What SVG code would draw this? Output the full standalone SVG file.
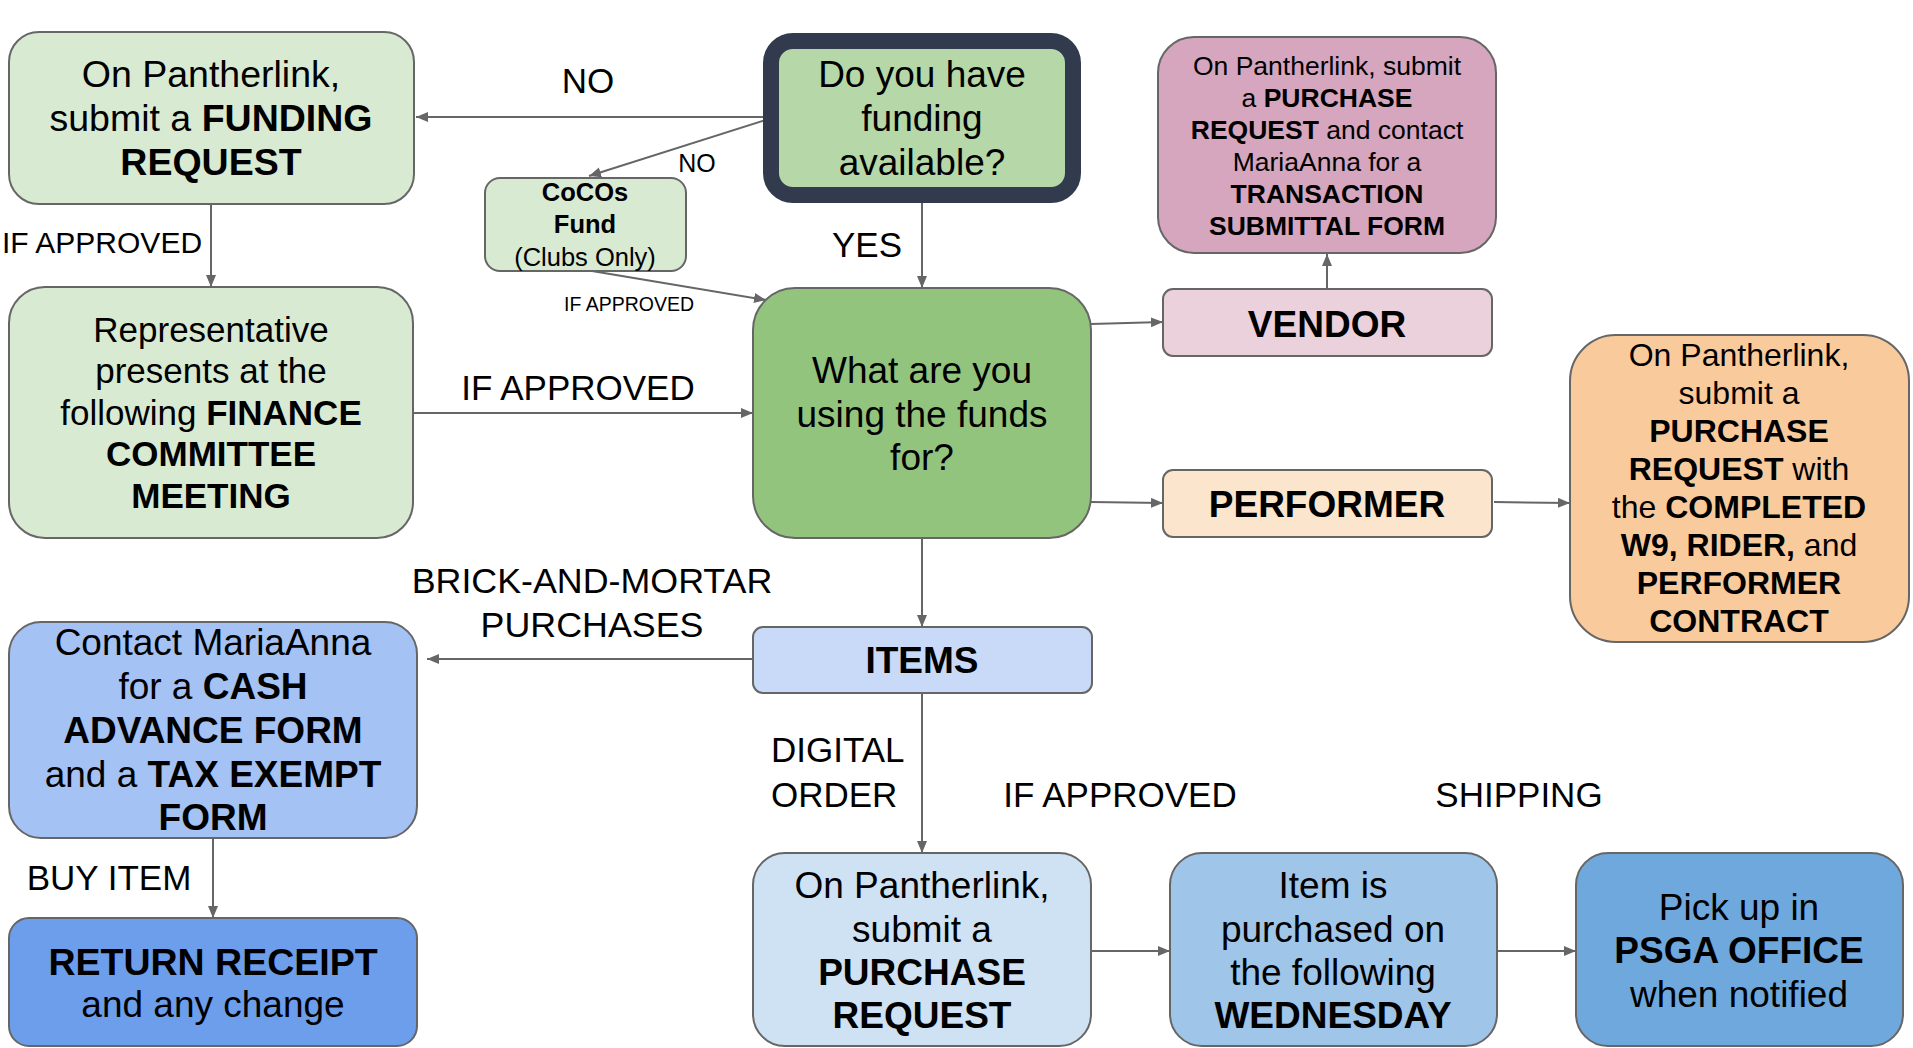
<svg xmlns="http://www.w3.org/2000/svg" width="1913" height="1048" viewBox="0 0 1913 1048">
<style>
text{font-family:"Liberation Sans",Arial,Helvetica,sans-serif;fill:#000;text-anchor:middle}
.b{font-weight:bold}
.box{stroke:#666;stroke-width:2}
.lbl{font-size:35px}
.con{stroke:#666;stroke-width:2;fill:none;marker-end:url(#ah)}
.t37{font-size:37px}
</style>
<defs>
<marker id="ah" markerUnits="userSpaceOnUse" markerWidth="14" markerHeight="12" refX="12" refY="5" orient="auto">
<path d="M0,0 L12,5 L0,10 Z" fill="#666"/>
</marker>
</defs>
<rect width="1913" height="1048" fill="#fff"/>

<g id="connectors">
<line class="con" x1="771" y1="117" x2="416" y2="117"/>
<line class="con" x1="772" y1="118" x2="589" y2="176"/>
<line class="con" x1="211" y1="204" x2="211" y2="287"/>
<line class="con" x1="592" y1="271" x2="766" y2="300"/>
<line class="con" x1="922" y1="196" x2="922" y2="288"/>
<line class="con" x1="413" y1="413" x2="753" y2="413"/>
<line class="con" x1="1091" y1="324" x2="1163" y2="322"/>
<line class="con" x1="1327" y1="289" x2="1327" y2="254"/>
<line class="con" x1="1091" y1="502" x2="1163" y2="503"/>
<line class="con" x1="1494" y1="502" x2="1570" y2="503"/>
<line class="con" x1="922" y1="538" x2="922" y2="627"/>
<line class="con" x1="753" y1="659" x2="427" y2="659"/>
<line class="con" x1="922" y1="693" x2="922" y2="853"/>
<line class="con" x1="213" y1="838" x2="213" y2="918"/>
<line class="con" x1="1091" y1="951" x2="1170" y2="951"/>
<line class="con" x1="1497" y1="951" x2="1576" y2="951"/>
</g>

<g id="labels">
<text class="lbl" x="588" y="93">NO</text>
<text x="697" y="172" style="font-size:25px">NO</text>
<text x="2" y="253" style="font-size:30px;text-anchor:start">IF APPROVED</text>
<text x="629" y="311" style="font-size:19.5px">IF APPROVED</text>
<text class="lbl" x="867" y="257">YES</text>
<text class="lbl" x="578" y="400">IF APPROVED</text>
<text x="592" y="593" style="font-size:35.8px">BRICK-AND-MORTAR</text>
<text x="592" y="637" style="font-size:35.8px">PURCHASES</text>
<text class="lbl" x="771" y="762" style="text-anchor:start">DIGITAL</text>
<text class="lbl" x="771" y="807" style="text-anchor:start">ORDER</text>
<text class="lbl" x="1120" y="807">IF APPROVED</text>
<text class="lbl" x="1519" y="807">SHIPPING</text>
<text class="lbl" x="109" y="890">BUY ITEM</text>
</g>

<g id="funding-request">
<rect class="box" x="9" y="32" width="405" height="172" rx="30" fill="#d9ead3"/>
<text x="211" y="87" style="font-size:37.5px">On Pantherlink,</text>
<text x="211" y="131" style="font-size:37.5px">submit a <tspan class="b">FUNDING</tspan></text>
<text class="b" x="211" y="175" style="font-size:37.5px">REQUEST</text>
</g>

<g id="funding-question">
<rect x="771" y="41" width="302" height="154" rx="22" fill="#b6d7a8" stroke="#323a4d" stroke-width="16"/>
<text class="t37" x="922" y="87">Do you have</text>
<text class="t37" x="922" y="131">funding</text>
<text class="t37" x="922" y="175">available?</text>
</g>

<g id="cocos-fund">
<rect class="box" x="485" y="178" width="201" height="93" rx="15" fill="#d9ead3"/>
<text class="b" x="585" y="201" style="font-size:25.5px">CoCOs</text>
<text class="b" x="585" y="233" style="font-size:25.5px">Fund</text>
<text x="585" y="266" style="font-size:25.5px">(Clubs Only)</text>
</g>

<g id="transaction-form">
<rect class="box" x="1158" y="37" width="338" height="216" rx="36" fill="#d5a6bd"/>
<text x="1327" y="75" style="font-size:26.5px">On Pantherlink, submit</text>
<text x="1327" y="107" style="font-size:26.5px">a <tspan class="b">PURCHASE</tspan></text>
<text x="1327" y="139" style="font-size:26.5px"><tspan class="b">REQUEST</tspan> and contact</text>
<text x="1327" y="171" style="font-size:26.5px">MariaAnna for a</text>
<text class="b" x="1327" y="203" style="font-size:26.5px">TRANSACTION</text>
<text class="b" x="1327" y="235" style="font-size:26.5px">SUBMITTAL FORM</text>
</g>

<g id="representative">
<rect class="box" x="9" y="287" width="404" height="251" rx="36" fill="#d9ead3"/>
<text x="211" y="342" style="font-size:35px">Representative</text>
<text x="211" y="383" style="font-size:35px">presents at the</text>
<text x="211" y="425" style="font-size:35px">following <tspan class="b">FINANCE</tspan></text>
<text class="b" x="211" y="466" style="font-size:35px">COMMITTEE</text>
<text class="b" x="211" y="508" style="font-size:35px">MEETING</text>
</g>

<g id="funds-use">
<rect class="box" x="753" y="288" width="338" height="250" rx="42" fill="#93c47d"/>
<text class="t37" x="922" y="383">What are you</text>
<text class="t37" x="922" y="427">using the funds</text>
<text class="t37" x="922" y="470">for?</text>
</g>

<g id="vendor">
<rect class="box" x="1163" y="289" width="329" height="67" rx="10" fill="#ead1dc"/>
<text class="t37 b" x="1327" y="337">VENDOR</text>
</g>

<g id="performer">
<rect class="box" x="1163" y="470" width="329" height="67" rx="10" fill="#fce5cd"/>
<text class="t37 b" x="1327" y="517">PERFORMER</text>
</g>

<g id="performer-request">
<rect class="box" x="1570" y="335" width="339" height="307" rx="46" fill="#f9cb9c"/>
<text x="1739" y="366" style="font-size:32px">On Pantherlink,</text>
<text x="1739" y="404" style="font-size:32px">submit a</text>
<text class="b" x="1739" y="442" style="font-size:32px">PURCHASE</text>
<text x="1739" y="480" style="font-size:32px"><tspan class="b">REQUEST</tspan> with</text>
<text x="1739" y="518" style="font-size:32px">the <tspan class="b">COMPLETED</tspan></text>
<text x="1739" y="556" style="font-size:32px"><tspan class="b">W9, RIDER,</tspan> and</text>
<text class="b" x="1739" y="594" style="font-size:32px">PERFORMER</text>
<text class="b" x="1739" y="632" style="font-size:32px">CONTRACT</text>
</g>

<g id="items">
<rect class="box" x="753" y="627" width="339" height="66" rx="10" fill="#c9daf8"/>
<text class="t37 b" x="922" y="673">ITEMS</text>
</g>

<g id="cash-advance">
<rect class="box" x="9" y="622" width="408" height="216" rx="32" fill="#a4c2f4"/>
<text class="t37" x="213" y="655">Contact MariaAnna</text>
<text class="t37" x="213" y="699">for a <tspan class="b">CASH</tspan></text>
<text class="t37 b" x="213" y="743">ADVANCE FORM</text>
<text class="t37" x="213" y="787">and a <tspan class="b">TAX EXEMPT</tspan></text>
<text class="t37 b" x="213" y="830">FORM</text>
</g>

<g id="return-receipt">
<rect class="box" x="9" y="918" width="408" height="128" rx="20" fill="#6d9eeb"/>
<text class="b" x="213" y="975" style="font-size:37.5px">RETURN RECEIPT</text>
<text class="t37" x="213" y="1017">and any change</text>
</g>

<g id="purchase-request">
<rect class="box" x="753" y="853" width="338" height="193" rx="32" fill="#cfe2f3"/>
<text class="t37" x="922" y="898">On Pantherlink,</text>
<text class="t37" x="922" y="942">submit a</text>
<text class="t37 b" x="922" y="985">PURCHASE</text>
<text class="t37 b" x="922" y="1028">REQUEST</text>
</g>

<g id="wednesday">
<rect class="box" x="1170" y="853" width="327" height="193" rx="32" fill="#9fc5e8"/>
<text class="t37" x="1333" y="898">Item is</text>
<text class="t37" x="1333" y="942">purchased on</text>
<text class="t37" x="1333" y="985">the following</text>
<text class="t37 b" x="1333" y="1028">WEDNESDAY</text>
</g>

<g id="pick-up">
<rect class="box" x="1576" y="853" width="327" height="193" rx="32" fill="#6fa8dc"/>
<text class="t37" x="1739" y="920">Pick up in</text>
<text class="t37 b" x="1739" y="963">PSGA OFFICE</text>
<text class="t37" x="1739" y="1007">when notified</text>
</g>
</svg>
